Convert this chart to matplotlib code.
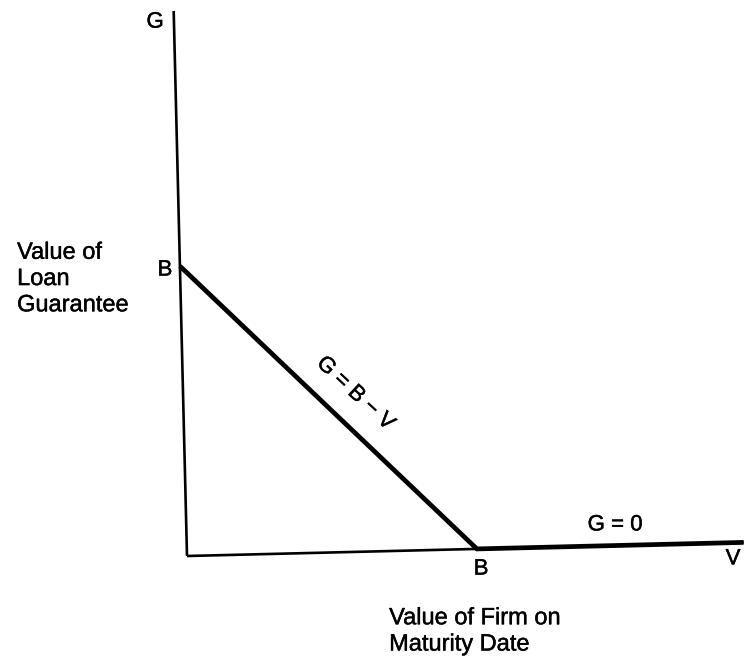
import matplotlib.pyplot as plt
import matplotlib.patheffects as pe
from matplotlib.transforms import Affine2D

plt.rcParams['font.family'] = ['Liberation Sans', 'DejaVu Sans']

# values in units of the loan face value B
firm_value = [0.0, 1.0, 1.92]      # V
guarantee = [1.0, 0.0, 0.0]        # G = max(B - V, 0)
v_axis_end = 1.92
g_axis_end = 1.88

fig = plt.figure(figsize=(7.45, 6.62), dpi=100)
ax = fig.add_axes([0, 0, 1, 1])
ax.set_xlim(-187 / 290, (745 - 187) / 290)
ax.set_ylim(-106 / 290, 556 / 290)
ax.axis('off')

# the scanned page is slightly rotated
tilt = Affine2D().rotate_deg(1.4) + ax.transData

ax.plot([0, 0], [0, g_axis_end], color='black', lw=1.9, transform=tilt,
        solid_capstyle='butt')
ax.plot([0, v_axis_end], [0, 0], color='black', lw=1.9, transform=tilt,
        solid_capstyle='butt')
ax.plot(firm_value, guarantee, color='black', lw=3.4, transform=tilt,
        solid_joinstyle='miter', solid_capstyle='butt')

# print looks a touch heavier than a regular weight
ink = [pe.withStroke(linewidth=0.3, foreground='black')]
fs = 17
ax.text(-0.110, 1.841, 'G', fontsize=fs - 1, ha='center', va='center', path_effects=ink)
ax.text(-0.076, 0.986, 'B', fontsize=fs - 1, ha='center', va='center', path_effects=ink)
ax.text(1.014, -0.045, 'B', fontsize=fs - 1, ha='center', va='center', path_effects=ink)
ax.text(1.883, -0.010, 'V', fontsize=fs - 1, ha='center', va='center', path_effects=ink)
ax.text(1.476, 0.107, 'G = 0', fontsize=fs - 1, ha='center', va='center', path_effects=ink)
ax.text(0.580, 0.560, 'G = B − V', fontsize=fs - 1, ha='center', va='center',
        rotation=-43, rotation_mode='anchor', path_effects=ink)
ax.text(-0.586, 0.955, 'Value of\nLoan\nGuarantee', fontsize=fs,
        ha='left', va='center', linespacing=1.25, path_effects=ink)
ax.text(0.697, -0.260, 'Value of Firm on\nMaturity Date', fontsize=fs,
        ha='left', va='center', linespacing=1.25, path_effects=ink)

fig.savefig('out.png', dpi=100, facecolor='white')
